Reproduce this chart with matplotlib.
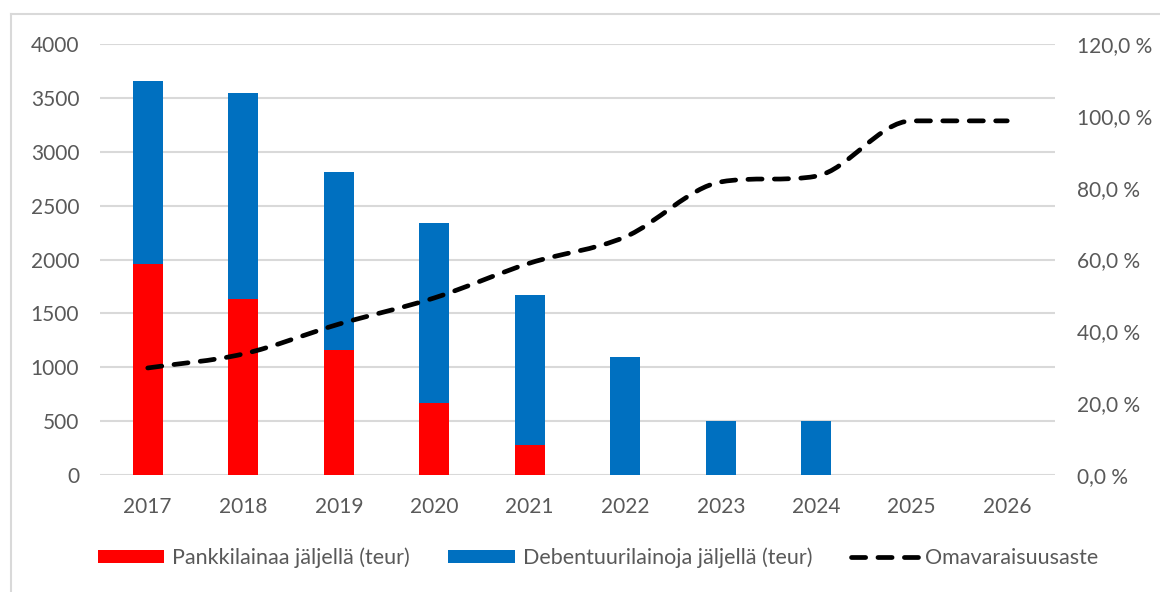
import matplotlib
matplotlib.use("Agg")
import matplotlib.pyplot as plt
from matplotlib.path import Path
from matplotlib.patches import PathPatch
from matplotlib.lines import Line2D
from matplotlib.patches import Patch
import numpy as np

# data
years = ["2017", "2018", "2019", "2020", "2021", "2022", "2023", "2024", "2025", "2026"]
pankkilainat = [1958, 1633, 1160, 668, 278, 0, 0, 0, 0, 0]
debentuurit = [1699, 1912, 1652, 1671, 1393, 1095, 501, 500, 0, 0]
omavaraisuus = [29.8, 33.7, 42.0, 49.3, 59.0, 66.3, 81.6, 83.2, 98.6, 98.6]

plt.rcParams['font.family'] = ['Lato', 'DejaVu Sans']
text_col = '#595959'
grid_col = '#d9d9d9'

fig = plt.figure(figsize=(11.6, 5.92), dpi=100)
ax = fig.add_axes([100 / 1160, 1 - 475 / 592, 955 / 1160, 431 / 592])

x = np.arange(len(years))
ax.bar(x, pankkilainat, width=0.31, color='#ff0000', zorder=3)
ax.bar(x, debentuurit, width=0.31, bottom=pankkilainat, color='#0070c0', zorder=3)

ax.set_xlim(-0.5, len(years) - 0.5)
ax.set_ylim(0, 4000)
ax.set_yticks(np.arange(0, 4001, 500))
ax.set_xticks(x)
ax.set_xticklabels(years)
ax.yaxis.grid(True, color=grid_col, linewidth=1.5)
ax.set_axisbelow(True)
for s in ax.spines.values():
    s.set_visible(False)
ax.tick_params(axis='both', length=0, labelsize=15, labelcolor=text_col)
ax.tick_params(axis='x', pad=16)
ax.tick_params(axis='y', pad=15)

# right axis for the ratio line
ax2 = ax.twinx()
ax2.set_ylim(0, 120)
ax2.set_yticks(np.arange(0, 121, 20))
ax2.set_yticklabels([f"{v:.1f} %".replace('.', ',') for v in np.arange(0, 121, 20)])
for s in ax2.spines.values():
    s.set_visible(False)
ax2.tick_params(axis='y', length=0, labelsize=15, labelcolor=text_col, pad=16)

# smoothed line (cubic Bezier through the points, flat where the data turns)
xs = x.astype(float)
ys = np.array(omavaraisuus, dtype=float)
d = np.diff(ys) / np.diff(xs)
m = np.zeros_like(ys)
m[0] = d[0]
m[-1] = d[-1]
for i in range(1, len(ys) - 1):
    if d[i - 1] * d[i] <= 0:
        m[i] = 0
    else:
        m[i] = (d[i - 1] + d[i]) / 2
        m[i] = min(m[i], 3 * d[i - 1], 3 * d[i])
verts = [(xs[0], ys[0])]
codes = [Path.MOVETO]
for i in range(len(xs) - 1):
    h = xs[i + 1] - xs[i]
    verts += [(xs[i] + h / 3, ys[i] + m[i] * h / 3),
              (xs[i + 1] - h / 3, ys[i + 1] - m[i + 1] * h / 3),
              (xs[i + 1], ys[i + 1])]
    codes += [Path.CURVE4] * 3
line = PathPatch(Path(verts, codes), facecolor='none', edgecolor='black',
                 linewidth=3.4, linestyle=(0, (3.0, 2.6)), capstyle='round', zorder=4)
ax2.add_patch(line)

handles = [Patch(facecolor='#ff0000'), Patch(facecolor='#0070c0'),
           Line2D([0], [0], color='black', linewidth=3.4, linestyle=(0, (3.0, 2.6)),
                  dash_capstyle='round')]
labels = ["Pankkilainaa jäljellä (teur)", "Debentuurilainoja jäljellä (teur)", "Omavaraisuusaste"]
leg = fig.legend(handles, labels, loc='center', bbox_to_anchor=(598 / 1160, 1 - 558 / 592),
                 ncol=3, frameon=False, fontsize=15.5, handlelength=3.1, handleheight=0.55,
                 handletextpad=0.35, columnspacing=1.8)
for t in leg.get_texts():
    t.set_color(text_col)

# chart frame
fig.add_artist(Line2D([11 / 1160, 11 / 1160], [0, 1 - 14 / 592], color='#d9d9d9', linewidth=1.5))
fig.add_artist(Line2D([11 / 1160, 1], [1 - 14 / 592, 1 - 14 / 592], color='#d9d9d9', linewidth=1.5))

fig.savefig("out.png", dpi=100)
